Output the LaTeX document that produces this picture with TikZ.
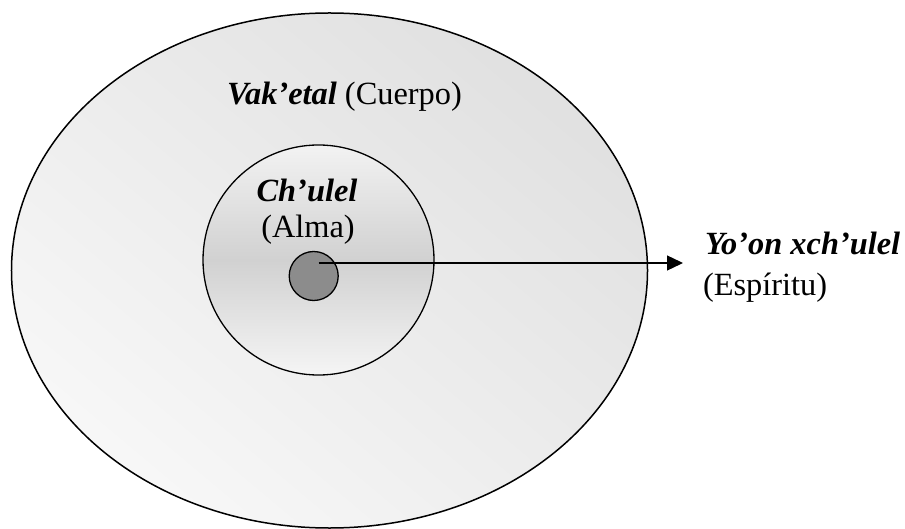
\documentclass[tikz,border=0pt]{standalone}
\usepackage{fontspec}
\setmainfont{Liberation Serif}
\usetikzlibrary{shapes.geometric,arrows.meta}
\begin{document}
\begin{tikzpicture}[x=1bp,y=-1bp,
  ring/.style={draw=black,ellipse,inner sep=0pt,outer sep=0pt},
  lbl/.style={inner sep=0pt,outer sep=0pt,font=\fontsize{32.5}{38}\selectfont},
  conn/.style={draw=black,line width=1.3bp,-{Triangle[length=16bp,width=15bp]}}]
\useasboundingbox (0,0) rectangle (905,529);
\node[ring,line width=1.5bp,minimum width=636bp,minimum height=515bp,
  top color=black!12,bottom color=black!3,shading angle=-40] (body) at (329.5,270.5) {};
\node[ring,line width=1.3bp,minimum width=231bp,minimum height=230bp,
  top color=black!5,bottom color=black!4,middle color=black!18] (alma) at (318.5,260) {};
\node[ring,line width=1.3bp,minimum width=49bp,minimum height=49bp,fill=black!45] (core) at (313.7,276) {};
\coordinate (src) at (318.5,263);
\coordinate (tip) at (683,263);
\draw[conn] (src) -- (tip);
\node[lbl,anchor=base] (vak) at (344.5,105) {\textbf{\textit{Vak’etal}} (Cuerpo)};
\node[lbl,anchor=base] (chu) at (307,201.5) {\textbf{\textit{Ch’ulel}}};
\node[lbl,anchor=base] (alm) at (308,238) {(Alma)};
\node[lbl,anchor=base west] (yoon) at (705,255) {\textbf{\textit{Yo’on xch’ulel}}};
\node[lbl,anchor=base west] (esp) at (703,296) {(Espíritu)};
\end{tikzpicture}
\end{document}
